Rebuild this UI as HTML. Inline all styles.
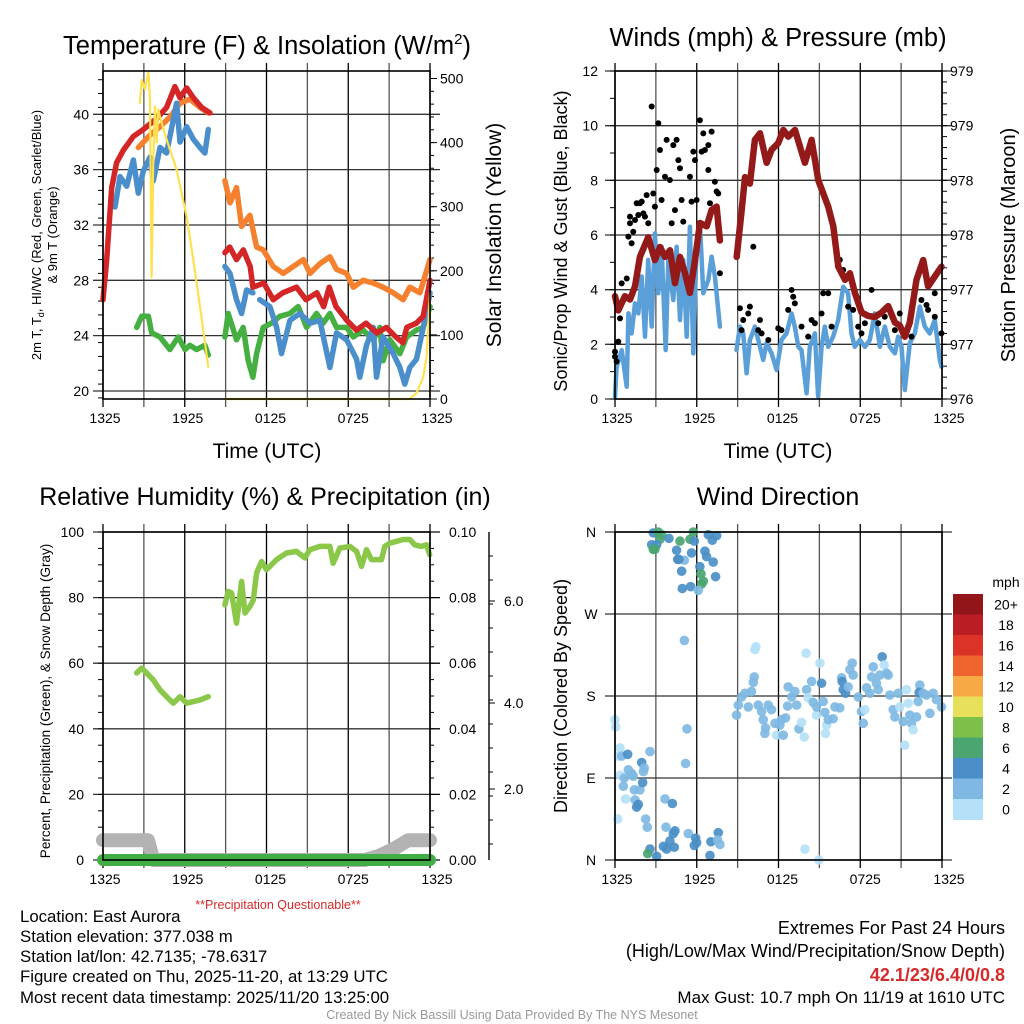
<!DOCTYPE html>
<html><head><meta charset="utf-8"><style>
html,body{margin:0;padding:0;background:#fff;}
svg{display:block;font-family:"Liberation Sans",sans-serif;}
</style></head><body>
<svg id="fig" width="1024" height="1024" viewBox="0 0 1024 1024" xmlns="http://www.w3.org/2000/svg">
<rect width="1024" height="1024" fill="#fff"/>
<g id="static"></g>
<g id="marks"></g>
<g id="frames"></g>
<text x="267" y="54" font-size="25.5" text-anchor="middle">Temperature (F) &amp; Insolation (W/m<tspan font-size="15" dy="-10">2</tspan><tspan dy="10">)</tspan></text>
<text x="778" y="46" font-size="25.5" text-anchor="middle">Winds (mph) &amp; Pressure (mb)</text>
<text x="265" y="505" font-size="25" text-anchor="middle">Relative Humidity (%) &amp; Precipitation (in)</text>
<text x="778" y="505" font-size="25" text-anchor="middle">Wind Direction</text>
<text x="267" y="458" font-size="21" text-anchor="middle">Time (UTC)</text>
<text x="778" y="458" font-size="21" text-anchor="middle">Time (UTC)</text>
<text transform="translate(41,235) rotate(-90)" font-size="13" text-anchor="middle">2m T, T<tspan font-size="9" dy="3">d</tspan><tspan dy="-3">, HI/WC (Red, Green, Scarlet/Blue)</tspan></text>
<text transform="translate(57,235) rotate(-90)" font-size="13" text-anchor="middle">&amp; 9m T (Orange)</text>
<text transform="translate(501,235) rotate(-90)" font-size="21" text-anchor="middle">Solar Insolation (Yellow)</text>
<text transform="translate(567,241) rotate(-90)" font-size="18" text-anchor="middle">Sonic/Prop Wind &amp; Gust (Blue, Black)</text>
<text transform="translate(1015,245) rotate(-90)" font-size="20" text-anchor="middle">Station Pressure (Maroon)</text>
<text transform="translate(50,701) rotate(-90)" font-size="13.5" text-anchor="middle">Percent, Precipitation (Green), &amp; Snow Depth (Gray)</text>
<text transform="translate(567,696) rotate(-90)" font-size="18" text-anchor="middle">Direction (Colored By Speed)</text>
<text x="278" y="909" font-size="12.5" fill="#d42a2a" text-anchor="middle">**Precipitation Questionable**</text>
<g font-size="16.8">
<text x="20" y="922">Location: East Aurora</text>
<text x="20" y="942">Station elevation: 377.038 m</text>
<text x="20" y="962">Station lat/lon: 42.7135; -78.6317</text>
<text x="20" y="982">Figure created on Thu, 2025-11-20, at 13:29 UTC</text>
<text x="20" y="1003">Most recent data timestamp: 2025/11/20 13:25:00</text>
</g>
<g font-size="18" text-anchor="end">
<text x="1005" y="934">Extremes For Past 24 Hours</text>
<text x="1005" y="957">(High/Low/Max Wind/Precipitation/Snow Depth)</text>
<text x="1005" y="981" fill="#d42a2a" font-weight="bold">42.1/23/6.4/0/0.8</text>
<text x="1005" y="1003" font-size="17">Max Gust: 10.7 mph On 11/19 at 1610 UTC</text>
</g>
<text x="512" y="1019" font-size="12.5" fill="#999" text-anchor="middle">Created By Nick Bassill Using Data Provided By The NYS Mesonet</text>
</svg>
<script>
// ---------- data ----------
const timeTickLabels = ["1325","1925","0125","0725","1325"];
// Temperature panel
const redT = [0,0.27,0.64,1.0,1.49,2.23,2.96,3.94,4.67,5.28,5.65,6.14,6.63,7.24,7.85,null,8.95,9.3,9.8,10.3,10.8,11.0,11.8,12.5,13.2,14.2,14.9,15.7,16.2,16.6,17.1,17.9,18.6,19.3,20.1,20.8,21.5,22.0,22.3,23.0,23.5,24.0];
const redV = [26.6,29.5,34.7,36.5,37.4,38.4,38.9,39.7,40.5,42.0,41.2,41.9,41.2,40.5,40.1,null,30.0,30.4,29.5,30.2,29.0,27.5,27.8,26.6,27.1,27.5,26.6,27.1,26.1,27.5,26.1,25.1,24.4,24.9,24.2,24.6,23.9,23.5,24.6,24.9,25.4,28.0];
const orangeT = [2.59,3.45,4.18,4.91,5.65,6.38,7.12,7.73,null,8.95,9.32,9.8,10.17,10.78,11.27,11.76,12.5,13.23,13.96,14.7,15.19,15.92,16.65,17.14,17.88,18.37,19.1,19.83,20.56,21.3,22.03,22.52,23.26,24];
const orangeV = [37.6,38.5,39.1,39.8,40.8,41.1,40.5,40.1,null,35.2,33.6,34.7,31.9,32.7,30.4,30.2,29.0,28.5,29.0,29.5,28.5,29.2,29.7,28.8,28.5,27.5,28.0,27.8,27.5,27.1,26.6,27.5,27.1,29.5];
const blueT = [0.88,1.25,1.74,2.23,2.59,2.96,3.45,3.69,4.18,4.67,5.4,5.65,6.14,6.63,7.12,7.48,7.73,null,8.95,9.32,9.8,10.17,10.54,11.0,null,11.5,12.25,12.74,13.1,13.72,14.45,15.19,15.92,16.65,17.14,17.88,18.61,18.85,19.34,19.83,20.07,20.56,21.3,21.79,22.15,22.52,23.01,23.5,24];
const blueV = [33.3,35.5,34.8,36.7,34.3,35.9,36.9,35.2,37.6,37.2,40.8,38.0,39.1,38.2,37.6,37.2,38.9,null,29.0,28.5,26.6,25.6,27.3,27.1,null,26.6,26.1,24.6,22.7,25.1,25.6,24.9,25.1,21.7,24.2,23.7,22.3,21.0,23.3,24.6,21.0,23.9,22.7,21.7,20.5,21.7,22.3,24.6,27.1];
const greenT = [2.47,2.84,3.33,3.57,4.18,4.91,5.53,6.02,6.38,6.87,7.48,7.73,null,8.95,9.19,9.8,10.29,10.66,11.0,11.27,11.76,12.37,12.98,13.72,14.33,14.94,15.67,16.16,16.65,17.14,17.88,18.37,19.1,19.83,20.32,20.56,21.05,21.79,22.28,23.01,23.5,24];
const greenV = [24.6,25.4,25.4,24.2,23.9,23.0,23.9,23.0,23.3,23.0,23.3,22.6,null,23.9,25.6,23.7,24.6,22.2,21.0,22.7,24.6,24.9,25.4,25.6,26.1,24.6,25.6,24.9,25.6,24.6,24.6,23.9,24.4,23.7,24.6,22.2,23.7,22.7,23.9,24.4,24.6,26.1];
const solarT = [2.71,2.84,3.08,3.33,3.45,3.57,3.69,3.82,3.94,4.06,4.18,4.67,5.4,6.14,6.63,7.12,7.73,null,8.95,22.5,23.0,23.5,23.75,24];
const solarV = [462,498,483,509,466,190,373,456,400,452,440,405,358,284,217,144,50,null,0,0,9,34,66,165];
const tempTicks = [20,24,28,32,36,40];
const solarTicks = [0,100,200,300,400,500];
// Wind panel
const windT = [0,0.12,0.49,0.86,0.98,1.22,1.47,1.71,1.96,2.2,2.44,2.69,2.93,3.18,3.42,3.72,3.91,4.28,4.52,4.77,5.01,5.26,5.5,5.75,5.99,6.23,6.48,6.85,7.09,7.33,7.7,null,8.92,9.17,9.41,9.66,9.9,10.27,10.64,10.88,11.12,11.49,11.86,12.22,12.59,12.96,13.2,13.45,13.69,14.06,14.3,14.67,14.91,15.16,15.4,15.65,16.01,16.38,16.75,17.11,17.36,17.6,17.97,18.34,18.7,19.07,19.44,19.8,20.17,20.54,20.78,21.03,21.27,21.64,22.0,22.37,22.74,23.1,23.47,23.84,23.96];
const windV = [0.09,1.18,1.79,0.45,3.13,2.4,3.5,3.13,4.48,2.28,5.09,2.65,6.06,3.87,5.57,1.79,5.09,3.62,5.57,2.89,5.09,2.28,6.3,1.67,5.57,6.43,3.87,4.35,5.21,4.48,2.65,null,1.79,2.65,2.4,0.94,2.16,2.65,1.91,1.43,2.04,1.67,1.06,2.16,2.4,3.13,2.65,1.91,1.79,0.21,1.91,2.4,0.09,1.91,2.65,1.91,2.28,2.89,4.11,3.87,2.4,1.91,2.16,1.91,2.16,3.13,1.91,2.65,1.91,1.67,2.28,1.91,0.33,2.04,2.4,3.38,2.65,2.4,2.89,1.43,1.18];
const gustT = [0,0,0.12,0.24,0.37,0.49,0.86,0.98,1.1,1.1,1.22,1.34,1.47,1.59,1.71,1.83,1.96,2.08,2.2,2.32,2.44,2.69,2.81,2.93,3.06,3.18,3.3,3.42,3.67,3.79,4.03,4.16,4.28,4.4,4.52,4.65,4.77,4.89,5.01,5.5,5.62,5.75,5.87,5.99,6.23,6.36,6.48,6.6,6.85,6.85,6.97,7.09,7.33,7.46,7.58,7.7,10.15,9.17,9.29,9.41,9.78,9.9,10.51,10.64,10.76,11.25,11.98,12.22,12.71,12.96,13.08,13.2,13.69,14.18,14.43,14.67,15.16,15.28,15.65,15.89,16.5,16.75,17.11,17.48,17.85,18.09,18.34,18.83,18.95,19.32,19.8,20.54,20.9,21.39,21.76,22.49,22.86,22.98,23.47,23.47,23.96];
const gustV = [1.55,1.73,1.37,2.1,2.95,4.23,4.41,5.94,6.43,6.67,5.7,6.12,6.55,7.16,6.73,7.16,7.22,6.79,6.67,7.46,6.43,10.7,7.52,7.04,8.38,10.09,9.11,7.28,8.13,9.48,8.01,6.43,9.29,6.91,9.48,8.74,8.44,7.28,6.49,8.13,7.22,9.05,8.74,7.28,10.2,9.05,9.72,9.11,9.29,8.38,7.16,9.78,7.95,7.59,7.52,4.6,5.57,3.32,2.52,2.89,3.13,3.38,2.52,2.89,2.4,2.16,2.59,2.52,3.26,3.99,3.74,3.5,2.65,2.28,2.89,2.77,3.13,3.87,3.87,2.65,5.09,4.72,3.38,3.26,2.65,2.4,2.77,3.99,3.01,2.77,3.01,2.52,3.13,2.52,2.28,3.62,3.44,3.26,3.01,3.87,2.4];
const presT = [0,0.24,0.73,1.1,1.47,1.83,2.44,2.93,3.3,3.67,4.04,4.4,4.77,5.14,5.5,5.87,6.24,6.73,7.09,7.46,7.7,null,8.93,9.3,9.54,9.9,10.27,10.64,11.13,11.5,11.98,12.35,12.72,13.21,13.57,13.94,14.43,14.92,15.29,15.65,16.02,16.39,16.88,17.24,17.61,18.1,18.59,19.07,19.56,20.05,20.54,20.91,21.27,21.64,22.13,22.62,22.98,23.47,23.96];
const presV = [976.94,976.81,976.94,976.91,977.03,977.30,977.48,977.27,977.39,977.30,977.36,977.06,977.30,977.15,976.97,977.27,977.61,977.58,977.73,977.76,977.45,null,977.30,977.73,978.03,977.97,978.37,978.43,978.16,978.28,978.34,978.46,978.40,978.46,978.31,978.16,978.37,978.0,977.88,977.76,977.58,977.21,977.09,977.15,976.97,976.79,976.76,976.75,976.79,976.85,976.70,976.67,976.57,976.70,977.09,977.27,977.03,977.12,977.21];
const windTicks = [0,2,4,6,8,10,12];
const presTickLabels = ["976","977","977","978","978","979","979"];
// Humidity panel
const rhT = [2.47,2.84,3.2,3.69,4.18,4.67,5.16,5.65,6.14,6.63,7.12,7.73,null,8.95,9.19,9.44,9.8,10.17,10.42,10.78,11.03,11.27,11.64,12.0,12.74,13.47,14.2,14.82,15.18,15.92,16.65,16.89,17.38,18.12,18.61,18.97,19.34,19.71,20.44,20.68,21.05,22.03,22.52,22.88,23.37,23.74,23.98];
const rhV = [57.0,58.5,57.0,54.9,51.9,49.8,47.8,49.8,47.8,48.3,48.8,49.8,null,77.8,81.9,81.4,72.2,84.9,75.3,77.3,79.3,87.5,91.0,88.5,91.6,93.6,94.1,92.1,94.6,95.6,95.6,90.5,95.1,95.6,94.1,89.5,94.6,91.6,91.6,95.6,96.6,97.7,97.7,96.1,95.6,96.1,93.1];
const precipT = [0,24];
const precipV = [0,0];
const snowT = [0,3.3,3.7,19.2,20.3,21.3,22.4,24];
const snowV = [0.55,0.55,0,0,0.12,0.3,0.55,0.55];
const rhTicks = [0,20,40,60,80,100];
const precipTicks = ["0.00","0.02","0.04","0.06","0.08","0.10"];
const snowTickLabels = ["2.0","4.0","6.0"];
// Wind direction panel
const dirT = [2.81,3.18,3.42,3.3,2.69,3.06,2.81,2.93,3.96,4.77,4.52,4.6,5.09,4.69,4.89,5.62,5.5,5.75,5.82,6.85,7.14,7.46,6.6,6.72,7.21,6.23,6.31,6.48,6.36,7.38,4.94,5.55,6.11,
5.09,10.34,10.27,14.03,15.04,5.28,5.18,21.27,
8.92,9.05,9.29,9.54,9.78,10.02,10.22,10.15,10.51,10.76,10.88,11.05,11.0,11.25,11.49,11.74,11.86,12.1,12.22,12.35,12.52,12.67,12.71,12.96,13.2,13.33,13.5,13.69,13.89,14.06,14.18,14.43,14.55,14.79,14.79,15.16,15.28,15.4,15.53,15.45,15.65,16.01,16.14,16.5,16.63,16.67,16.75,16.92,17.11,17.24,17.41,17.48,17.85,18.09,18.22,18.34,18.46,18.7,18.83,18.95,19.19,19.32,19.44,19.61,19.76,19.93,20.05,20.17,20.42,20.54,20.78,20.9,21.15,21.39,21.52,21.64,21.76,21.88,22.13,22.25,22.37,22.32,22.62,22.86,23.11,23.35,23.59,23.96,
0,0.05,0.37,0.24,0.49,0.93,2.57,1.96,2.15,2.08,0.98,1.22,0.37,0.68,1.34,0.61,1.42,1.83,2.03,0.78,1.47,1.71,1.59,3.67,4.21,0.2,2.25,2.37,3.74,4.4,4.28,5.38,4.03,3.55,3.79,4.35,5.92,5.99,5.82,7.04,7.58,7.53,7.7,2.57,2.4,3.06,6.97,13.94,14.96];
const dirV = [359,360,357,352,346,346,341,341,353,350,340,330,329,330,317,337,352,360,350,357,351,356,339,333,327,322,314,306,303,311,298,300,296,
241,234,231,227,216,144,106,126,
159,170,179,183,168,185,201,195,170,163,154,145,139,170,165,150,137,148,154,137,156,169,190,179,185,170,144,151,135,187,178,196,173,159,168,194,174,162,148,139,154,155,168,167,200,196,187,183,190,209,216,203,179,163,150,165,189,183,201,212,194,187,203,223,214,205,203,181,165,157,183,168,152,187,172,159,150,143,157,174,192,184,183,181,161,183,176,168,
154,146,123,114,114,116,119,107,101,97,99,95,93,90,92,81,77,77,85,67,66,61,58,67,62,45,45,36,36,32,29,29,21,15,12,14,24,19,16,20,30,22,17,12,7,4,5,12,0];
const dirSpeed = [5,7,7,7,5,5,7,7,5,7,5,5,3,5,5,5,7,7,5,5,5,5,5,5,5,5,7,7,7,5,5,5,3,
3,1,1,1,1,3,3,1,
3,3,3,3,3,3,3,3,3,3,3,3,3,3,3,3,1,3,3,3,3,3,3,3,3,3,3,1,1,3,1,3,3,1,3,5,3,3,1,1,3,3,3,3,3,5,5,5,3,3,3,3,3,3,3,1,3,3,3,3,3,3,3,5,1,3,3,3,3,3,3,1,3,1,1,3,3,1,3,3,3,5,3,3,3,3,3,3,
1,1,1,1,3,5,3,5,3,3,3,3,1,3,3,3,3,3,5,1,3,5,5,3,5,1,3,3,3,5,5,3,5,5,5,5,5,5,5,5,5,3,3,5,7,5,5,1,1];
const dirTickLabels = ["N","E","S","W","N"];
const speedBinLabels = ["0","2","4","6","8","10","12","14","16","18","20+"];
const speedColors = ["#b4e1f7","#7fb8e3","#4a8fc7","#4aa570","#7cc04a","#e6e05a","#f6a945","#ef632c","#dc3328","#bb1d24","#921619"];

// ---------- helpers ----------
const NS="http://www.w3.org/2000/svg";
const S=document.getElementById('static'),M=document.getElementById('marks'),F=document.getElementById('frames');
function el(tag,attrs,parent){const e=document.createElementNS(NS,tag);for(const k in attrs)e.setAttribute(k,attrs[k]);parent.appendChild(e);return e;}
function txt(x,y,s,size,anchor,parent){const t=el('text',{x:x,y:y,'font-size':size,'text-anchor':anchor},parent);t.textContent=s;return t;}
const X0=[103,615], XW=327, HOURS=24;
function xs(panel){const x0=X0[panel];return t=>x0+t/HOURS*XW;}
function lin(d0,d1,r0,r1){return v=>r0+(v-d0)/(d1-d0)*(r1-r0);}
function pathD(T,V,xf,yf){let d='',pen=false;for(let i=0;i<T.length;i++){if(T[i]===null||V[i]===null){pen=false;continue;}d+=(pen?'L':'M')+xf(T[i]).toFixed(1)+','+yf(V[i]).toFixed(1);pen=true;}return d;}

function panelFrame(px,top,bot,hGridYs,name){
  const x0=X0[px],x1=x0+XW;
  for(let k=0;k<=8;k++){const x=x0+k*XW/8;
    const g=el('line',{x1:x,y1:top-8,x2:x,y2:bot+8,stroke:k%2?'#555':'#000','stroke-width':1.3},S);
    
    }
  hGridYs.forEach(y=>{const g=el('line',{x1:x0-10,y1:y,x2:x1+10,y2:y,stroke:'#333','stroke-width':1.3},S);
    
    });
  const r=el('rect',{x:x0,y:top,width:XW,height:bot-top,fill:'none',stroke:'#000','stroke-width':1.6},F);
  
  
  timeTickLabels.forEach((s,i)=>{const t=txt(x0+2+i*XW/4+(i==4?5:i*1),bot+24,s,14,'middle',S);
    
    });
}
function drawLine(T,V,xf,yf,color,w,name,parent){const p=el('path',{d:pathD(T,V,xf,yf),fill:'none',stroke:color,'stroke-width':w,'stroke-linejoin':'round','stroke-linecap':'round'},parent||M);
  
  return p;}

// ---------- Panel 1: temperature ----------
{const xf=xs(0);const top=71,bot=399;
 const yT=lin(20,40,391,114.3);const yS=lin(0,500,399,78.5);
 panelFrame(0,top,bot,tempTicks.map(yT),'temperature-plot-frame');
 tempTicks.forEach(v=>{const t=txt(89,yT(v)+5,String(v),14,'end',S);
   
   });
 for(let v=19.5;v<43;v+=1){const y=yT(v);if(y<top||y>bot)continue;el('line',{x1:98,y1:y,x2:103,y2:y,stroke:'#000'},S);}
 solarTicks.forEach(v=>{const t=txt(440,yS(v)+5,String(v),14,'start',S);
   
   
   el('line',{x1:430,y1:yS(v),x2:437,y2:yS(v),stroke:'#000'},S);});
 for(let v=0;v<=500;v+=20){el('line',{x1:430,y1:yS(v),x2:434,y2:yS(v),stroke:'#000'},S);}
 drawLine(orangeT,orangeV,xf,yT,'#f5812f',5.5,'series-9m-temp');
 drawLine(greenT,greenV,xf,yT,'#45b041',5.5,'series-dewpoint');
 drawLine(blueT,blueV,xf,yT,'#4a8fcb',5.5,'series-heat-index-wind-chill');
 drawLine(redT,redV,xf,yT,'#d42527',5.5,'series-2m-temp');
 drawLine(solarT,solarV,xf,yS,'#ffe04f',2.2,'series-solar-insolation');
}
// ---------- Panel 2: winds ----------
{const xf=xs(1);const top=71,bot=399;
 const yW=lin(0,12,399,71);const yP=lin(976,979,399,71);
 panelFrame(1,top,bot,windTicks.map(yW),'winds-plot-frame');
 windTicks.forEach(v=>{const t=txt(598,yW(v)+5,String(v),14,'end',S);
   
   });
 for(let v=0;v<=12;v+=1){el('line',{x1:610,y1:yW(v),x2:615,y2:yW(v),stroke:'#000'},S);}
 presTickLabels.forEach((s,i)=>{const y=yP(976+i*0.5);const t=txt(950,y+5,s,14,'start',S);
   
   });
 for(let v=976;v<=979.01;v+=0.1){el('line',{x1:942,y1:yP(v),x2:947,y2:yP(v),stroke:'#000'},S);}
 drawLine(windT,windV,xf,yW,'#5b9fd9',4.5,'series-sonic-wind');
 for(let i=0;i<gustT.length;i++){const c=el('circle',{cx:xf(gustT[i]),cy:yW(gustV[i]),r:3,fill:'#000'},M);
   
   }
 drawLine(presT,presV,xf,yP,'#941a1a',6.5,'series-station-pressure');
}
// ---------- Panel 3: humidity ----------
{const xf=xs(0);const top=532,bot=860;
 const yR=lin(0,100,860,532);const ySn=lin(0,2,860,788);
 panelFrame(0,top,bot,rhTicks.map(yR),'humidity-plot-frame');
 rhTicks.forEach(v=>{const t=txt(84,yR(v)+5,String(v),14,'end',S);
   
   });
 for(let v=0;v<=100;v+=5){el('line',{x1:98,y1:yR(v),x2:103,y2:yR(v),stroke:'#000'},S);}
 precipTicks.forEach((s,i)=>{const y=yR(i*20);const t=txt(449,y+5,s,14,'start',S);
   
   
   el('line',{x1:430,y1:y,x2:440,y2:y,stroke:'#000'},S);});
 for(let v=0;v<=100;v+=5){el('line',{x1:430,y1:yR(v),x2:434,y2:yR(v),stroke:'#000'},S);}
 const sa=el('line',{x1:489,y1:532,x2:489,y2:860,stroke:'#222','stroke-width':1.6},S);
 
 
 const snowTickYs=[789,703,601];
 snowTickLabels.forEach((s,i)=>{const t=txt(504,snowTickYs[i]+5,s,14,'start',S);
   
   
   el('line',{x1:489,y1:snowTickYs[i],x2:495,y2:snowTickYs[i],stroke:'#000'},S);});
 for(let y=556;y<860;y+=24){el('line',{x1:489,y1:y,x2:493,y2:y,stroke:'#000'},S);}
 drawLine(snowT,snowV,xf,ySn,'#b3b3b3',14,'series-snow-depth');
 drawLine(precipT,precipV,xf,yR,'#41ad45',12,'series-precipitation');
 drawLine(rhT,rhV,xf,yR,'#8bc84a',5.5,'series-relative-humidity');
}
// ---------- Panel 4: wind direction ----------
{const xf=xs(1);const top=532,bot=860;
 const yD=lin(0,360,860,532);
 panelFrame(1,top,bot,[0,90,180,270,360].map(yD),'direction-plot-frame');
 dirTickLabels.forEach((s,i)=>{const t=txt(591,yD(i*90)+5,s,14,'middle',S);
   
   });
 for(let i=0;i<dirT.length;i++){const bin=Math.min(10,Math.floor(dirSpeed[i]/2));
   const c=el('circle',{cx:xf(dirT[i]),cy:yD(dirV[i]),r:4.8,fill:speedColors[bin],'fill-opacity':0.92},M);
   
   }
 // colorbar
 const cbTop=594,cbH=20.5;
 const mph=txt(1006,587,'mph',14,'middle',S);
 
 
 for(let k=0;k<speedColors.length;k++){const idx=10-k;const y=cbTop+k*cbH;
   const r=el('rect',{x:953,y:y,width:30,height:cbH+0.5,fill:speedColors[idx]},S);
   
   
   const t=txt(1006,y+cbH/2+5,speedBinLabels[idx],14,'middle',S);
   
   }
}
</script>
</body></html>
